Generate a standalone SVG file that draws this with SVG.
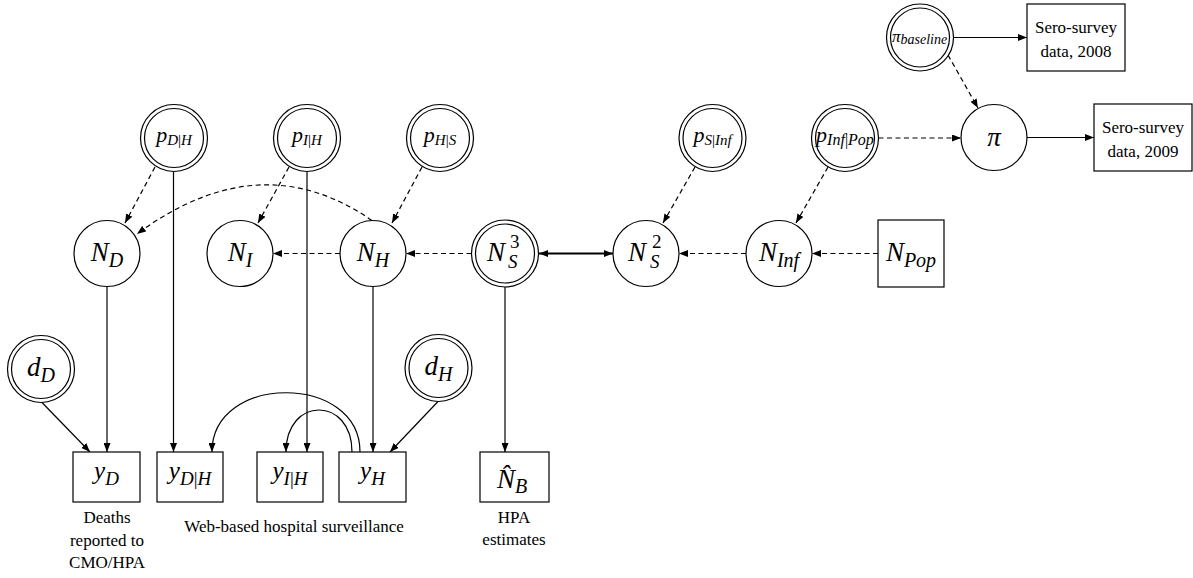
<svg xmlns="http://www.w3.org/2000/svg" width="1193" height="578" viewBox="0 0 1193 578">
<style>
.nd{fill:#fff;stroke:#000;stroke-width:1.2}
.ln{fill:none;stroke:#000;stroke-width:1.2}
.da{stroke-dasharray:5 3.5}
.m{font-family:'Liberation Serif','DejaVu Serif',serif;font-style:italic;font-size:27px;fill:#000}
.p{font-family:'Liberation Serif','DejaVu Serif',serif;font-style:italic;font-size:22px;fill:#000}
.t{font-family:'Liberation Serif','DejaVu Serif',serif;font-size:17px;fill:#000}
.up{font-style:normal}
</style>
<defs>
<marker id="ar" markerUnits="userSpaceOnUse" markerWidth="9" markerHeight="7" refX="9" refY="3.5" orient="auto-start-reverse" viewBox="0 0 9 7">
<path d="M0,0 L9,3.5 L0,7 z" fill="#000"/>
</marker>
</defs>
<g id="connectors">
<path class="ln" d="M954,37.5 L1027,37.5" marker-end="url(#ar)"/>
<path class="ln da" d="M948,55 L978,108" marker-end="url(#ar)"/>
<path class="ln da" d="M878.5,138 L961,138" marker-end="url(#ar)"/>
<path class="ln" d="M1027,137.5 L1094,137.5" marker-end="url(#ar)"/>
<path class="ln da" d="M695,167 L663,223" marker-end="url(#ar)"/>
<path class="ln da" d="M828,167 L796,223" marker-end="url(#ar)"/>
<path class="ln da" d="M878,253.5 L812,253.5" marker-end="url(#ar)"/>
<path class="ln da" d="M746,253.5 L679,253.5" marker-end="url(#ar)"/>
<path class="ln" style="stroke-width:2" d="M539,253.5 L613,253.5" marker-start="url(#ar)" marker-end="url(#ar)"/>
<path class="ln da" d="M471.5,253.5 L406,253.5" marker-end="url(#ar)"/>
<path class="ln da" d="M340,253.5 L273,253.5" marker-end="url(#ar)"/>
<path class="ln da" d="M422,167 L392,223" marker-end="url(#ar)"/>
<path class="ln da" d="M289,167 L258,223" marker-end="url(#ar)"/>
<path class="ln da" d="M155,167 L125,223" marker-end="url(#ar)"/>
<path class="ln da" d="M372,220.5 Q260,143 137,234" marker-end="url(#ar)"/>
<path class="ln" d="M173.5,171.5 L173.5,452" marker-end="url(#ar)"/>
<path class="ln" d="M307,171.5 L307,452" marker-end="url(#ar)"/>
<path class="ln" d="M107,286.5 L107,452" marker-end="url(#ar)"/>
<path class="ln" d="M373,286.5 L373,452" marker-end="url(#ar)"/>
<path class="ln" d="M505,287 L505,452" marker-end="url(#ar)"/>
<path class="ln" d="M42,402.5 L90,452" marker-end="url(#ar)"/>
<path class="ln" d="M438,401.5 L390,452" marker-end="url(#ar)"/>
<path class="ln" d="M360,452 C360,373 212,373 212,452" marker-end="url(#ar)"/>
<path class="ln" d="M352,452 C352,396 286,396 286,452" marker-end="url(#ar)"/>
</g>
<g id="pi_baseline">
<circle class="nd" cx="920" cy="37.5" r="33.5"/><circle class="nd" cx="920" cy="37.5" r="29.5"/>
<text class="p" x="892" y="42" style="font-size:17px">π<tspan style="font-size:14px" dy="2">baseline</tspan></text>
</g>
<g id="sero2008">
<rect class="nd" x="1027" y="4" width="98" height="67"/>
<text class="t" x="1076" y="33" text-anchor="middle">Sero-survey</text>
<text class="t" x="1076" y="57" text-anchor="middle">data, 2008</text>
</g>
<g id="pi">
<circle class="nd" cx="994" cy="137.5" r="33"/>
<text class="m" x="994" y="146" text-anchor="middle">π</text>
</g>
<g id="sero2009">
<rect class="nd" x="1094" y="104" width="98" height="67"/>
<text class="t" x="1143" y="133" text-anchor="middle">Sero-survey</text>
<text class="t" x="1143" y="157" text-anchor="middle">data, 2009</text>
</g>
<g id="p_DH">
<circle class="nd" cx="174" cy="138" r="33.5"/><circle class="nd" cx="174" cy="138" r="29.5"/>
<text class="p" x="174" y="142" text-anchor="middle">p<tspan style="font-size:15px" dy="3">D<tspan class="up">|</tspan>H</tspan></text>
</g>
<g id="p_IH">
<circle class="nd" cx="307" cy="138" r="33.5"/><circle class="nd" cx="307" cy="138" r="29.5"/>
<text class="p" x="307" y="142" text-anchor="middle">p<tspan style="font-size:15px" dy="3">I<tspan class="up">|</tspan>H</tspan></text>
</g>
<g id="p_HS">
<circle class="nd" cx="440" cy="138" r="33.5"/><circle class="nd" cx="440" cy="138" r="29.5"/>
<text class="p" x="440" y="142" text-anchor="middle">p<tspan style="font-size:15px" dy="3">H<tspan class="up">|</tspan>S</tspan></text>
</g>
<g id="p_SInf">
<circle class="nd" cx="712.5" cy="138" r="33.5"/><circle class="nd" cx="712.5" cy="138" r="29.5"/>
<text class="p" x="712.5" y="142" text-anchor="middle">p<tspan style="font-size:15px" dy="3">S<tspan class="up">|</tspan>Inf</tspan></text>
</g>
<g id="p_InfPop">
<circle class="nd" cx="845" cy="138" r="33.5"/><circle class="nd" cx="845" cy="138" r="29.5"/>
<text class="p" x="845" y="142" text-anchor="middle">p<tspan style="font-size:16px" dy="3">Inf<tspan class="up">|</tspan>Pop</tspan></text>
</g>
<g id="N_D">
<circle class="nd" cx="107" cy="253.5" r="33"/>
<text class="m" x="107" y="261" text-anchor="middle">N<tspan style="font-size:20px" dy="6">D</tspan></text>
</g>
<g id="N_I">
<circle class="nd" cx="240" cy="253.5" r="33"/>
<text class="m" x="240" y="261" text-anchor="middle">N<tspan style="font-size:20px" dy="6">I</tspan></text>
</g>
<g id="N_H">
<circle class="nd" cx="373" cy="253.5" r="33"/>
<text class="m" x="373" y="261" text-anchor="middle">N<tspan style="font-size:20px" dy="6">H</tspan></text>
</g>
<g id="N_S3">
<circle class="nd" cx="505" cy="253.5" r="33.5"/><circle class="nd" cx="505" cy="253.5" r="29.5"/>
<text class="m" x="487" y="261">N<tspan style="font-size:19px" class="up" x="510" y="248">3</tspan><tspan style="font-size:19px" x="508" y="268">S</tspan></text>
</g>
<g id="N_S2">
<circle class="nd" cx="646" cy="253.5" r="33"/>
<text class="m" x="628" y="261">N<tspan style="font-size:19px" class="up" x="652" y="248">2</tspan><tspan style="font-size:19px" x="650" y="268">S</tspan></text>
</g>
<g id="N_Inf">
<circle class="nd" cx="779" cy="253.5" r="33"/>
<text class="m" x="779" y="261" text-anchor="middle">N<tspan style="font-size:20px" dy="6">Inf</tspan></text>
</g>
<g id="N_Pop">
<rect class="nd" x="878" y="220" width="66" height="67"/>
<text class="m" x="911" y="261" text-anchor="middle">N<tspan style="font-size:20px" dy="6">Pop</tspan></text>
</g>
<g id="d_D">
<circle class="nd" cx="41" cy="369" r="33.5"/><circle class="nd" cx="41" cy="369" r="29.5"/>
<text class="m" x="41" y="376" text-anchor="middle">d<tspan style="font-size:20px" dy="6">D</tspan></text>
</g>
<g id="d_H">
<circle class="nd" cx="438.5" cy="368" r="33.5"/><circle class="nd" cx="438.5" cy="368" r="29.5"/>
<text class="m" x="438.5" y="375" text-anchor="middle">d<tspan style="font-size:20px" dy="6">H</tspan></text>
</g>
<g id="y_D">
<rect class="nd" x="73" y="452" width="67" height="50"/>
<text class="m" x="106.5" y="479" text-anchor="middle" style="font-size:25px">y<tspan style="font-size:19px" dy="6">D</tspan></text>
</g>
<g id="y_DH">
<rect class="nd" x="157" y="452" width="66" height="50"/>
<text class="m" x="190" y="479" text-anchor="middle" style="font-size:25px">y<tspan style="font-size:19px" dy="6">D<tspan class="up">|</tspan>H</tspan></text>
</g>
<g id="y_IH">
<rect class="nd" x="257" y="452" width="66" height="50"/>
<text class="m" x="290" y="479" text-anchor="middle" style="font-size:25px">y<tspan style="font-size:19px" dy="6">I<tspan class="up">|</tspan>H</tspan></text>
</g>
<g id="y_H">
<rect class="nd" x="339" y="452" width="67" height="50"/>
<text class="m" x="372.5" y="479" text-anchor="middle" style="font-size:25px">y<tspan style="font-size:19px" dy="6">H</tspan></text>
</g>
<g id="N_B">
<rect class="nd" x="480" y="452" width="69" height="50"/>
<text class="m" x="497" y="488">N&#x302;<tspan style="font-size:20px" dy="5">B</tspan></text>
</g>
<g id="labels">
<text class="t" x="107" y="523" text-anchor="middle">Deaths</text>
<text class="t" x="107" y="546" text-anchor="middle">reported to</text>
<text class="t" x="107" y="568" text-anchor="middle">CMO/HPA</text>
<text class="t" x="294" y="532" text-anchor="middle">Web-based hospital surveillance</text>
<text class="t" x="514" y="523" text-anchor="middle">HPA</text>
<text class="t" x="514" y="545" text-anchor="middle">estimates</text>
</g>
</svg>
